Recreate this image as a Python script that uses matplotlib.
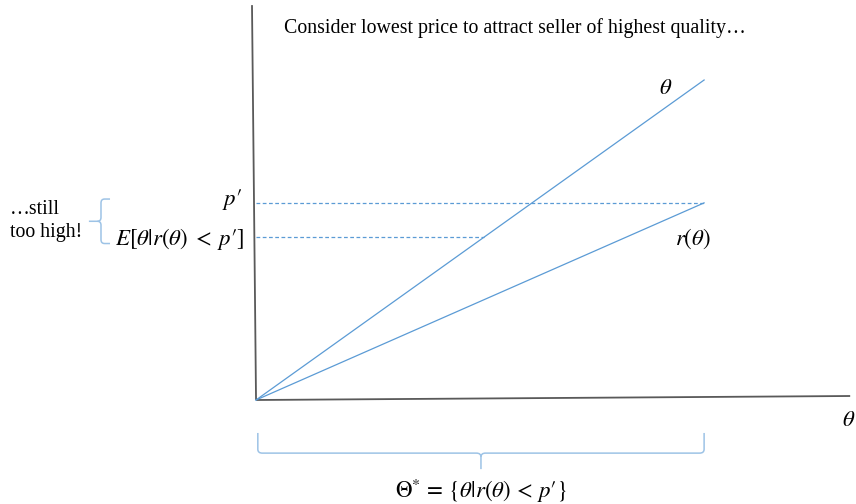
import numpy as np
import matplotlib
matplotlib.use("Agg")
import matplotlib.pyplot as plt
from matplotlib.path import Path
from matplotlib.patches import PathPatch

plt.rcParams["mathtext.fontset"] = "stix"
plt.rcParams["font.family"] = ["Liberation Serif", "DejaVu Serif"]

# model quantities (quality theta on [0, 1])
theta = np.array([0.0, 1.0])
theta_line = theta.copy()              # buyer's value: theta
r_slope = 0.616                        # seller's reservation value r(theta)
r_line = r_slope * theta
p_prime = r_slope * theta[-1]          # price that attracts the top quality seller
expected_q = 0.509                     # E[theta | r(theta) < p']

blue = "#5B9BD5"
brace_blue = "#9DC3E6"
axis_gray = "#595959"
MATH = 16.5
TEXT = 14.3

fig = plt.figure(figsize=(8.56, 5.04), dpi=100)
ax = fig.add_axes([0, 0, 1, 1])
ax.set_xlim(-0.5714, 1.339)
ax.set_ylim(-0.325, 1.25)
ax.axis("off")

# hand-drawn looking axes
ax.plot([0, -0.009], [0, 1.234], color=axis_gray, lw=1.3, solid_capstyle="butt")
ax.plot([0, 1.326], [0, 0.0125], color=axis_gray, lw=1.3, solid_capstyle="butt")

# the two schedules
ax.plot(theta, theta_line, color=blue, lw=0.9)
ax.plot(theta, r_line, color=blue, lw=0.9)

# price levels
ax.plot([0, theta[-1]], [p_prime, p_prime], color=blue, lw=0.9, ls=(0, (3, 2)))
ax.plot([0, expected_q], [expected_q, expected_q], color=blue, lw=0.9, ls=(0, (3, 2)))

# curve labels
ax.text(0.915, 0.975, r"$\theta$", fontsize=MATH, ha="center", va="center")
ax.text(0.975, 0.505, r"$r(\theta)$", fontsize=MATH, ha="center", va="center")
ax.text(1.323, -0.065, r"$\theta$", fontsize=MATH, ha="center", va="center")
ax.text(-0.03, p_prime + 0.01, "$p\u2032$", fontsize=MATH, ha="right", va="center")
ax.text(-0.025, expected_q - 0.005, "$E[\\theta|r(\\theta)\\;<\\;p\u2032]$", fontsize=MATH,
        ha="right", va="center")

ax.text(0.0625, 1.163, "Consider lowest price to attract seller of highest quality\u2026",
        fontsize=TEXT, ha="left", va="center")
ax.text(-0.549, 0.56, "\u2026still\ntoo high!", fontsize=TEXT, ha="left",
        va="center", linespacing=1.25)


def brace_h(x0, x1, xm, y_top, depth, tip, r=0.01):
    """Horizontal brace opening upwards, tip pointing down at xm."""
    yb = y_top - depth
    verts = [(x0, y_top), (x0, yb + r * 1.2), (x0, yb), (x0 + r, yb),
             (xm - r, yb), (xm, yb), (xm, yb - r * 1.2),
             (xm, yb - tip)]
    codes = [Path.MOVETO, Path.LINETO, Path.CURVE3, Path.CURVE3,
             Path.LINETO, Path.CURVE3, Path.CURVE3, Path.LINETO]
    ax.add_patch(PathPatch(Path(verts, codes), fc="none", ec=brace_blue, lw=1.1))
    verts = [(x1, y_top), (x1, yb + r * 1.2), (x1, yb), (x1 - r, yb),
             (xm + r, yb), (xm, yb), (xm, yb - r * 1.2)]
    codes = [Path.MOVETO, Path.LINETO, Path.CURVE3, Path.CURVE3,
             Path.LINETO, Path.CURVE3, Path.CURVE3]
    ax.add_patch(PathPatch(Path(verts, codes), fc="none", ec=brace_blue, lw=1.1))


def brace_v(x_right, width, y0, y1, ym, tip, ry=0.012, rx=0.008):
    """Vertical brace opening to the right, tip pointing left at ym."""
    xv = x_right - width
    verts = [(x_right, y1), (xv + rx, y1), (xv, y1), (xv, y1 - ry),
             (xv, ym + ry), (xv, ym), (xv - rx, ym), (xv - tip, ym)]
    codes = [Path.MOVETO, Path.LINETO, Path.CURVE3, Path.CURVE3,
             Path.LINETO, Path.CURVE3, Path.CURVE3, Path.LINETO]
    ax.add_patch(PathPatch(Path(verts, codes), fc="none", ec=brace_blue, lw=1.1))
    verts = [(x_right, y0), (xv + rx, y0), (xv, y0), (xv, y0 + ry),
             (xv, ym - ry), (xv, ym), (xv - rx, ym)]
    codes = [Path.MOVETO, Path.LINETO, Path.CURVE3, Path.CURVE3,
             Path.LINETO, Path.CURVE3, Path.CURVE3]
    ax.add_patch(PathPatch(Path(verts, codes), fc="none", ec=brace_blue, lw=1.1))


# brace over the set of qualities willing to sell at p'
brace_h(theta[0] + 0.004, theta[-1], expected_q - 0.007, -0.103, 0.063, 0.05)
ax.text((expected_q - 0.007), -0.285,
        "$\\Theta^{*}\\,=\\,\\{\\theta|r(\\theta)\\,<\\,p\u2032\\}$",
        fontsize=MATH, ha="center", va="center")

# brace grouping the two price levels
y_hi = p_prime + 0.012
y_lo = expected_q - 0.02
brace_v(-0.3259, 0.0201, y_lo, y_hi, 0.5 * (y_lo + y_hi), 0.027)

fig.savefig("out.png", dpi=100)
